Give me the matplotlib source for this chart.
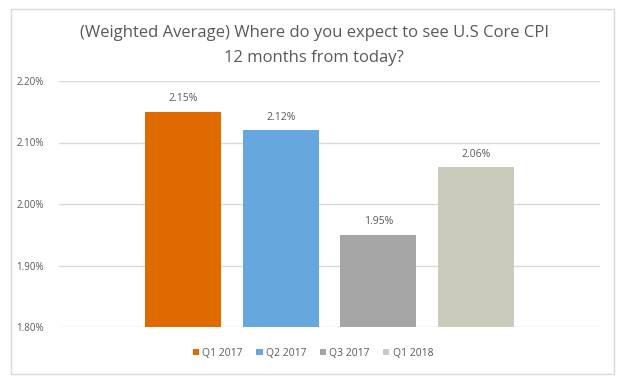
import matplotlib
matplotlib.use("Agg")
import matplotlib.pyplot as plt
from matplotlib.patches import Rectangle
from matplotlib.ticker import FuncFormatter

plt.rcParams['font.family'] = ['Open Sans', 'DejaVu Sans']

categories = ["Q1 2017", "Q2 2017", "Q3 2017", "Q1 2018"]
values = [2.15, 2.12, 1.95, 2.06]
colors = ["#DF6A00", "#66A8DE", "#A5A5A5", "#CBCBBC"]
yticks = [1.80, 1.90, 2.00, 2.10, 2.20]

W, H = 623, 381
fig = plt.figure(figsize=(W/100, H/100), dpi=100)
fig.patch.set_facecolor("white")
fig.patches.append(Rectangle((11/W, 1-374/H), (614-11)/W, (374-9)/H,
                             transform=fig.transFigure, fill=False,
                             edgecolor="#D9D9D9", linewidth=1))

ax = fig.add_axes([59/W, 1-327/H, (600-59)/W, (327-81)/H])
txt = "#595959"
handles = []
for i, (c, v, col) in enumerate(zip(categories, values, colors)):
    b = ax.bar(i, v - 1.80, bottom=1.80, width=0.78, color=col, label=c, zorder=3)
    handles.append(b)
    ax.text(i, v + 0.012, f"{v:.2f}%", ha="center", va="bottom", fontsize=7.5, color=txt)

ax.set_xlim(-1.275, 4.275)
ax.set_ylim(1.80, 2.20)
ax.set_yticks(yticks)
ax.yaxis.set_major_formatter(FuncFormatter(lambda y, p: f"{y:.2f}%"))
ax.tick_params(axis="y", length=0, labelsize=7, labelcolor=txt, pad=11)
ax.set_xticks([])
ax.grid(axis="y", color="#D9D9D9", linewidth=1, zorder=0)
for s in ax.spines.values():
    s.set_visible(False)

cx = 314 / W
fig.text(cx, 1 - 33/H, "(Weighted Average) Where do you expect to see U.S Core CPI",
         ha="center", va="center", fontsize=12, color=txt)
fig.text(cx, 1 - 58/H, "12 months from today?",
         ha="center", va="center", fontsize=12, color=txt)

fig.legend(handles=handles, labels=categories, loc="center", bbox_to_anchor=(313/W, 1-353/H),
           ncol=4, frameon=False, fontsize=7.5, handlelength=0.6, handleheight=0.6,
           handletextpad=0.3, columnspacing=1.3, labelcolor=txt)

fig.savefig("out.png", dpi=100)
